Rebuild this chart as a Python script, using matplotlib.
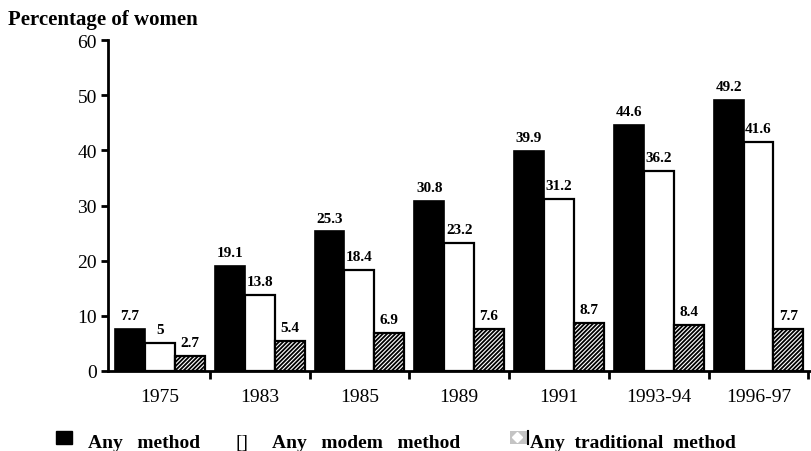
import numpy as np
import matplotlib.pyplot as plt
from matplotlib.patches import Rectangle

years = ['1975', '1983', '1985', '1989', '1991', '1993-94', '1996-97']
any_method = [7.7, 19.1, 25.3, 30.8, 39.9, 44.6, 49.2]
modern_method = [5, 13.8, 18.4, 23.2, 31.2, 36.2, 41.6]
traditional_method = [2.7, 5.4, 6.9, 7.6, 8.7, 8.4, 7.7]

plt.rcParams['font.family'] = 'Liberation Serif'
plt.rcParams['hatch.linewidth'] = 1.3

fig = plt.figure(figsize=(8.12, 4.52), dpi=100)
ax = fig.add_axes([0.133, 0.177, 0.865, 0.732])

x = np.arange(len(years))
w = 0.3
b1 = ax.bar(x - w, any_method, w, color='black', edgecolor='black', lw=1.2)
b2 = ax.bar(x, modern_method, w, color='white', edgecolor='black', lw=1.6)
b3 = ax.bar(x + w, traditional_method, w, color='white', edgecolor='black',
            lw=1.6, hatch='////////')

for bars, vals in ((b1, any_method), (b2, modern_method), (b3, traditional_method)):
    for r, v in zip(bars, vals):
        ax.annotate(f'{v:g}', (r.get_x() + r.get_width() / 2, v),
                    xytext=(0, 5), textcoords='offset points',
                    ha='center', va='bottom', fontsize=11, fontweight='bold')

ax.set_xlim(-0.52, 6.52)
ax.set_ylim(0, 60)
ax.set_yticks(range(0, 61, 10))
ax.set_xticks(x + 0.5)
ax.set_xticklabels([])
ax.set_xticks(x, minor=True)
ax.set_xticklabels(years, minor=True)
ax.tick_params(axis='x', which='minor', length=0, pad=12, labelsize=14)
ax.tick_params(axis='x', which='major', length=6, width=2, direction='out')
ax.tick_params(axis='y', length=5, width=2, labelsize=14, pad=3)
for s in ('top', 'right'):
    ax.spines[s].set_visible(False)
for s in ('left', 'bottom'):
    ax.spines[s].set_linewidth(2)

fig.text(0.01, 0.956, 'Percentage of women', fontsize=15, fontweight='bold',
         va='center')

# legend along the bottom
ly = 0.016
fig.patches.append(Rectangle((0.069, ly), 0.0197, 0.029, transform=fig.transFigure,
                             facecolor='black', edgecolor='black'))
fig.text(0.108, 0.008, 'Any   method', fontsize=14, fontweight='bold', va='baseline')
fig.text(0.290, 0.008, '[]', fontsize=14, va='baseline')
fig.text(0.335, 0.008, 'Any   modem   method', fontsize=14, fontweight='bold',
         va='baseline')
fig.patches.append(Rectangle((0.628, ly), 0.022, 0.029, transform=fig.transFigure,
                             facecolor='#c4c4c4', edgecolor='none'))
fig.lines.append(plt.Line2D([0.650, 0.650], [ly, ly + 0.029], transform=fig.transFigure,
                            color='black', lw=1.5))
fig.lines.append(plt.Line2D([0.637], [ly + 0.0145], transform=fig.transFigure,
                            marker='D', markersize=5, color='white', lw=0))
fig.text(0.653, 0.008, 'Any  traditional  method', fontsize=14, fontweight='bold',
         va='baseline')

plt.savefig('out.png', dpi=100)
